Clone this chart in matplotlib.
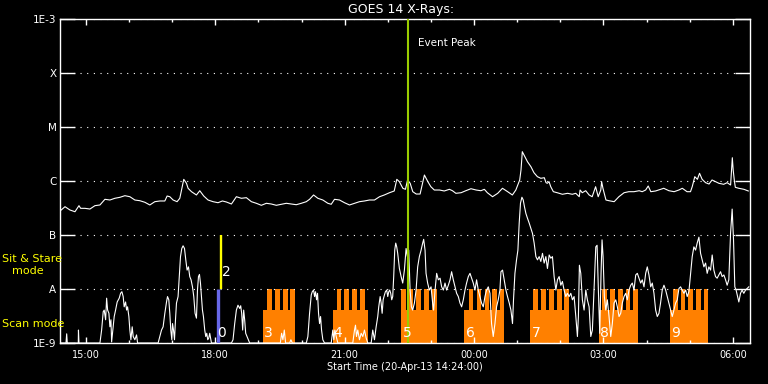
import numpy as np
import matplotlib
matplotlib.use("Agg")
import matplotlib.pyplot as plt
import matplotlib.transforms as mtransforms

# ---------------- data (time in hours after 20-Apr-13 14:24:00 UT, flux as log10 W/m^2) -------------
hrs_up = [
    0.000, 0.116, 0.231, 0.347, 0.440, 0.479, 0.579, 0.694, 0.810, 0.926,
    1.042, 1.157, 1.273, 1.389, 1.505, 1.620, 1.736, 1.852, 1.968, 2.083,
    2.199, 2.315, 2.431, 2.484, 2.546, 2.623, 2.715, 2.778, 2.817, 2.870,
    2.933, 2.970, 3.049, 3.164, 3.241, 3.333, 3.433, 3.549, 3.664, 3.766,
    3.859, 3.975, 4.090, 4.206, 4.322, 4.438, 4.553, 4.669, 4.785, 4.900,
    5.016, 5.132, 5.248, 5.363, 5.479, 5.595, 5.711, 5.787, 5.880, 5.979,
    6.095, 6.211, 6.289, 6.366, 6.481, 6.597, 6.713, 6.829, 6.944, 7.060,
    7.176, 7.292,
    7.41, 7.52, 7.64, 7.75, 7.81, 7.87, 7.95, 8.01, 8.06, 8.12,
    8.18, 8.26, 8.35, 8.45, 8.53, 8.60, 8.68, 8.80, 8.91, 9.03,
    9.10, 9.18, 9.30, 9.41, 9.53, 9.65, 9.76, 9.84, 9.91, 10.03,
    10.15, 10.26, 10.38, 10.49, 10.57, 10.63, 10.66, 10.69, 10.72, 10.78,
    10.84, 10.92, 10.99, 11.07, 11.15, 11.23, 11.27, 11.30, 11.34, 11.38,
    11.44, 11.53, 11.65, 11.77, 11.88, 11.96, 12.04, 12.06, 12.11, 12.19,
    12.27, 12.34, 12.42, 12.48, 12.54, 12.56, 12.59, 12.66, 12.73, 12.85,
    12.96, 13.08, 13.19, 13.31, 13.43, 13.50, 13.58, 13.64, 13.70, 13.81,
    13.93, 14.00, 14.12, 14.24, 14.35, 14.43, 14.54, 14.62, 14.66, 14.72,
    14.78, 14.83, 14.89, 14.97, 15.05, 15.12, 15.20, 15.28, 15.39, 15.47,
    15.55, 15.59, 15.61, 15.64, 15.66, 15.74, 15.86, 15.96,
]
log_up = [
    -6.556, -6.476, -6.537, -6.569, -6.457, -6.506, -6.506, -6.519, -6.457, -6.444,
    -6.339, -6.352, -6.320, -6.302, -6.272, -6.291, -6.352, -6.365, -6.394, -6.444,
    -6.383, -6.370, -6.370, -6.278, -6.291, -6.352, -6.383, -6.320, -6.167, -5.969,
    -6.043, -6.135, -6.198, -6.259, -6.180, -6.278, -6.352, -6.383, -6.402, -6.370,
    -6.389, -6.426, -6.291, -6.320, -6.309, -6.383, -6.413, -6.450, -6.413, -6.426,
    -6.450, -6.431, -6.413, -6.426, -6.439, -6.413, -6.383, -6.339, -6.259, -6.320,
    -6.352, -6.413, -6.431, -6.339, -6.352, -6.402, -6.444, -6.413, -6.383, -6.370,
    -6.352, -6.352,
    -6.291, -6.259, -6.217, -6.185, -5.969, -6.013, -6.135, -6.154, -5.981, -6.043,
    -6.198, -6.241, -6.241, -5.889, -6.013, -6.106, -6.167, -6.167, -6.185, -6.154,
    -6.180, -6.228, -6.217, -6.180, -6.143, -6.167, -6.180, -6.154, -6.217, -6.291,
    -6.228, -6.135, -6.198, -6.259, -6.167, -6.043, -5.981, -5.796, -5.457, -5.550,
    -5.643, -5.735, -5.846, -5.920, -5.950, -5.939, -6.031, -6.043, -6.013, -6.106,
    -6.198, -6.217, -6.246, -6.228, -6.246, -6.228, -6.291, -6.167, -6.217, -6.180,
    -6.259, -6.291, -6.106, -6.291, -6.167, -6.013, -6.135, -6.352, -6.365, -6.383,
    -6.291, -6.217, -6.198, -6.198, -6.180, -6.198, -6.167, -6.093, -6.198, -6.185,
    -6.154, -6.135, -6.180, -6.198, -6.167, -6.135, -6.198, -6.198, -6.106, -5.920,
    -5.969, -5.857, -5.969, -6.031, -6.056, -5.981, -6.013, -6.043, -6.061, -6.031,
    -6.074, -5.569, -5.796, -6.013, -6.117, -6.135, -6.154, -6.185,
]

hrs_lo = [
    0.000, 0.139, 0.155, 0.169, 0.424, 0.428, 0.440, 0.602, 0.609, 0.618,
    0.926, 0.965, 1.002, 1.025, 1.058, 1.081, 1.104, 1.134, 1.157, 1.181,
    1.197, 1.234, 1.257, 1.289, 1.326, 1.373, 1.405, 1.435, 1.465, 1.488,
    1.521, 1.544, 1.567, 1.597, 1.620, 1.644, 1.674, 1.697, 1.736, 1.775,
    1.799, 2.275, 2.315, 2.354, 2.391, 2.431, 2.470, 2.493, 2.523, 2.546,
    2.569, 2.593, 2.609, 2.632, 2.655, 2.678, 2.701, 2.738, 2.762, 2.794,
    2.824, 2.854, 2.887, 2.917, 2.947, 2.979, 3.009, 3.039, 3.072, 3.102,
    3.132, 3.164, 3.188, 3.211, 3.234, 3.257, 3.280, 3.303, 3.326, 3.356,
    3.380, 3.403, 3.426, 3.449, 3.472, 3.512, 3.975, 4.012, 4.051, 4.090,
    4.127, 4.167, 4.190, 4.213, 4.236, 4.259, 4.282, 4.306, 4.336, 4.368,
    4.398, 5.109, 5.139, 5.169, 5.201, 5.231, 5.324, 5.354, 5.387, 5.593,
    5.632, 5.671, 5.711, 5.748, 5.787, 5.826, 5.850, 5.880, 5.903, 5.926,
    5.949, 5.972, 5.995, 6.019, 6.042, 6.065, 6.095, 6.134, 6.289, 6.326,
    6.350, 6.373, 6.405, 6.442, 6.789, 6.829, 6.852, 6.875, 6.905, 6.944,
    6.984, 7.021, 7.060, 7.100, 7.137, 7.215, 7.252, 7.292, 7.331, 7.368,
    7.391, 7.424, 7.447, 7.470, 7.493, 7.523, 7.546, 7.576, 7.600, 7.623,
    7.646, 7.669, 7.692, 7.715, 7.738, 7.762, 7.785, 7.808, 7.831, 7.870,
    7.910, 7.947, 7.986, 8.025, 8.056, 8.086, 8.118, 8.148, 8.178, 8.218,
    8.257, 8.294, 8.333, 8.373, 8.410, 8.433, 8.465, 8.488, 8.525, 8.565,
    8.604, 8.641, 8.664, 8.697, 8.734, 8.773, 8.813, 8.850, 8.889, 8.928,
    8.965, 9.005, 9.044, 9.081, 9.120, 9.160, 9.197, 9.236, 9.275, 9.313,
    9.352, 9.391, 9.428, 9.468, 9.507, 9.544, 9.583, 9.623, 9.660, 9.699,
    9.738, 9.775, 9.815, 9.854, 9.891, 9.931, 9.970, 10.007, 10.046, 10.086,
    10.123, 10.162, 10.201, 10.225, 10.262, 10.301, 10.340, 10.377, 10.417, 10.456,
    10.493, 10.516, 10.549, 10.586, 10.618, 10.648, 10.678, 10.711, 10.741, 10.771,
    10.803, 10.840, 10.880, 10.919, 10.956, 10.995, 11.035, 11.072, 11.111, 11.150,
    11.188, 11.227, 11.266, 11.303, 11.343, 11.382, 11.419, 11.458, 11.498, 11.535,
    11.574, 11.613, 11.650, 11.689, 11.729, 11.766, 11.806, 11.845, 11.882, 11.921,
    11.961, 11.998, 12.021, 12.044, 12.076, 12.113, 12.153, 12.192, 12.229, 12.269,
    12.308, 12.345, 12.384, 12.424, 12.454, 12.484, 12.516, 12.546, 12.569, 12.593,
    12.623, 12.655, 12.692, 12.731, 12.771, 12.808, 12.847, 12.887, 12.924, 12.963,
    13.002, 13.039, 13.079, 13.118, 13.155, 13.194, 13.234, 13.271, 13.310, 13.350,
    13.387, 13.426, 13.465, 13.502, 13.542, 13.581, 13.618, 13.657, 13.697, 13.734,
    13.773, 13.812, 13.850, 13.889, 13.926, 13.965, 14.005, 14.044, 14.081, 14.120,
    14.160, 14.197, 14.236, 14.275, 14.313, 14.352, 14.391, 14.428, 14.468, 14.507,
    14.544, 14.583, 14.623, 14.660, 14.699, 14.738, 14.775, 14.815, 14.854, 14.891,
    14.931, 14.970, 15.007, 15.046, 15.086, 15.123, 15.162, 15.201, 15.238, 15.278,
    15.317, 15.354, 15.394, 15.433, 15.470, 15.509, 15.549, 15.586, 15.618, 15.648,
    15.678, 15.711, 15.741, 15.780, 15.817, 15.856, 15.896, 15.933, 15.972,
]
log_lo = [
    -9.00, -9.00, -8.83, -9.00, -9.00, -8.76, -9.00, -9.00, -9.00, -9.00,
    -9.00, -8.76, -8.42, -8.39, -8.57, -8.17, -8.39, -8.45, -8.70, -8.57,
    -8.98, -8.70, -8.51, -8.39, -8.24, -8.17, -8.08, -8.05, -8.14, -8.33,
    -8.24, -8.39, -8.33, -8.51, -8.76, -8.94, -8.70, -8.88, -8.94, -8.85,
    -9.00, -9.00, -8.88, -8.76, -8.70, -8.45, -8.24, -8.14, -8.20, -8.45,
    -8.76, -8.94, -8.64, -8.76, -8.94, -8.57, -8.26, -8.14, -7.83, -7.40,
    -7.25, -7.20, -7.25, -7.46, -7.65, -7.59, -7.77, -7.83, -7.96, -8.14,
    -8.45, -8.54, -8.02, -7.77, -7.73, -7.89, -8.14, -8.39, -8.51, -8.76,
    -8.88, -8.82, -8.94, -8.91, -8.82, -9.00, -9.00, -8.94, -8.64, -8.39,
    -8.30, -8.36, -8.31, -8.45, -8.76, -8.39, -8.57, -8.82, -8.88, -8.94,
    -9.00, -9.00, -8.82, -8.94, -8.76, -9.00, -9.00, -8.94, -9.00, -9.00,
    -9.00, -9.00, -9.00, -8.88, -8.45, -8.11, -8.05, -8.02, -8.14, -8.05,
    -8.20, -8.08, -8.45, -8.64, -8.51, -8.76, -8.94, -9.00, -9.00, -8.76,
    -8.94, -8.76, -8.88, -9.00, -9.00, -8.76, -8.67, -8.88, -8.76, -8.94,
    -8.82, -8.88, -8.76, -8.91, -9.00, -9.00, -8.76, -8.94, -8.70, -8.51,
    -8.33, -8.14, -8.26, -8.45, -8.20, -8.11, -8.05, -8.02, -8.14, -8.05,
    -8.02, -8.08, -8.20, -8.14, -7.77, -7.28, -7.15, -7.22, -7.34, -7.62,
    -7.77, -7.89, -7.65, -7.25, -7.40, -7.28, -8.02, -8.33, -8.39, -8.26,
    -8.02, -7.59, -7.40, -7.28, -7.15, -7.08, -7.28, -7.71, -7.89, -8.02,
    -7.96, -8.26, -8.39, -8.02, -7.71, -7.83, -7.80, -7.96, -8.02, -7.89,
    -8.02, -7.93, -7.83, -7.68, -7.83, -7.96, -8.08, -8.14, -8.26, -8.33,
    -8.20, -8.02, -7.89, -7.77, -7.71, -7.80, -7.89, -8.02, -7.83, -8.02,
    -8.14, -8.26, -8.33, -8.14, -8.02, -7.96, -8.08, -8.64, -8.88, -8.64,
    -8.33, -8.20, -8.02, -7.68, -7.65, -7.83, -8.02, -8.14, -8.26, -8.39,
    -8.64, -8.20, -7.71, -7.46, -7.28, -6.78, -6.41, -6.30, -6.35, -6.48,
    -6.60, -6.69, -6.78, -6.88, -6.97, -7.15, -7.40, -7.46, -7.40, -7.49,
    -7.34, -7.52, -7.40, -7.62, -7.37, -7.43, -7.40, -7.77, -8.02, -7.83,
    -7.77, -7.93, -7.86, -8.02, -8.14, -8.08, -8.14, -8.08, -8.20, -8.14,
    -8.51, -8.88, -8.51, -7.56, -7.71, -8.20, -8.39, -8.02, -8.20, -8.33,
    -8.88, -8.76, -8.02, -7.22, -7.19, -8.02, -8.82, -7.71, -7.09, -7.40,
    -8.14, -8.39, -8.20, -8.51, -8.88, -8.64, -8.26, -8.20, -8.33, -8.51,
    -8.45, -8.26, -8.14, -8.08, -8.20, -8.02, -7.93, -7.89, -8.02, -7.74,
    -7.71, -7.80, -7.89, -7.83, -7.96, -7.71, -7.59, -7.74, -7.96, -7.89,
    -8.08, -8.39, -8.51, -8.45, -8.26, -8.02, -7.93, -8.02, -8.14, -8.26,
    -8.39, -8.51, -8.39, -8.26, -8.20, -7.99, -7.96, -8.02, -8.08, -8.02,
    -8.14, -8.05, -7.71, -7.40, -7.22, -7.28, -7.15, -7.04, -7.34, -7.46,
    -7.59, -7.52, -7.71, -7.59, -7.65, -7.37, -7.65, -7.77, -7.80, -7.74,
    -7.68, -7.77, -7.74, -7.83, -7.93, -7.83, -6.97, -6.52, -7.09, -7.96,
    -8.02, -8.14, -8.24, -8.08, -8.02, -8.08, -8.02, -7.99, -7.96,
]

# scan-mode blocks: id, start, end (hours after start), and start of each raster scan
block_ids = ["3", "4", "5", "6", "7", "8", "9"]
block_start = [4.699, 6.319, 7.917, 9.375, 10.903, 12.500, 14.137]
block_end = [5.440, 7.146, 8.750, 10.301, 11.806, 13.403, 15.030]
block_scans = [
    [4.799, 4.984, 5.169, 5.331],
    [6.412, 6.597, 6.782, 6.968],
    [7.917, 8.079, 8.264, 8.449, 8.634],
    [9.475, 9.660, 9.845, 10.016, 10.192],
    [10.972, 11.157, 11.343, 11.528, 11.697],
    [12.576, 12.755, 12.940, 13.118, 13.294],
    [14.213, 14.391, 14.567, 14.752, 14.931],
]
scan_len = 0.108

obs0_time = 3.665   # scan-mode observation "0"
obs2_time = 3.727   # sit & stare observation "2"
event_peak = 8.079

ytick_vals = [1e-9, 1e-8, 1e-7, 1e-6, 1e-5, 1e-4, 1e-3]
ytick_labels = ["1E-9", "A", "B", "C", "M", "X", "1E-3"]
xtick_major = [0.6, 3.6, 6.6, 9.6, 12.6, 15.6]
xtick_labels = ["15:00", "18:00", "21:00", "00:00", "03:00", "06:00"]
xtick_minor = [0.6, 1.6, 2.6, 3.6, 4.6, 5.6, 6.6, 7.6, 8.6, 9.6, 10.6, 11.6, 12.6, 13.6, 14.6, 15.6]

# ---------------- figure ----------------
W, H = 768, 384
fig = plt.figure(figsize=(W / 100, H / 100), dpi=100, facecolor="black")
ax = fig.add_axes([60 / W, 1 - 343 / H, 690 / W, 324 / H], facecolor="black")
ax.set_yscale("log")
ax.set_xlim(0, 16)
ax.set_ylim(1e-9, 1e-3)

ORANGE = "#ff8000"
low_top = 4.1e-9
# orange scan blocks
for s, e in zip(block_start, block_end):
    ax.bar(s, low_top - 1e-9, width=e - s, bottom=1e-9, align="edge",
           color=ORANGE, edgecolor="none", linewidth=0, zorder=1)
for scans, e in zip(block_scans, block_end):
    for s in scans:
        w = min(scan_len, e - s)
        ax.bar(s, 1e-8 - low_top, width=w, bottom=low_top, align="edge",
               color=ORANGE, edgecolor="none", linewidth=0, zorder=1)

# GOES curves
ax.plot(hrs_up, np.power(10.0, log_up), color="white", lw=0.8, zorder=3)
ax.plot(hrs_lo, np.power(10.0, log_lo), color="white", lw=0.8, zorder=3)

# observation markers
ax.vlines(obs0_time, 1e-9, 1e-8, color="#6868e8", lw=2.4, zorder=4)
ax.vlines(obs2_time, 1e-8, 1e-7, color="#ffff00", lw=1.7, zorder=4)
ax.axvline(event_peak, color="#9acd00", lw=1.5, zorder=5)

# labels inside plot
tr = mtransforms.blended_transform_factory(ax.transData, ax.transAxes)
for bid, s in zip(block_ids, block_start):
    ax.text(s + 0.03, 0.031, bid, transform=tr, color="white", fontsize=10,
            ha="left", va="center", zorder=6)
ax.text(obs0_time - 0.01, 0.031, "0", transform=tr, color="white", fontsize=10,
        ha="left", va="center", zorder=6)
ax.text(obs2_time + 0.03, 0.219, "2", transform=tr, color="white", fontsize=10,
        ha="left", va="center", zorder=6)
ax.text(event_peak + 0.22, 1 - 24 / 324, "Event Peak", transform=tr, color="white",
        fontsize=7.5, ha="left", va="center", zorder=6)

# axes styling
for sp in ax.spines.values():
    sp.set_color("white")
    sp.set_linewidth(1.0)
ax.set_yticks(ytick_vals)
ax.set_yticklabels(ytick_labels)
ax.yaxis.set_minor_locator(matplotlib.ticker.NullLocator())
ax.tick_params(axis="y", which="major", direction="in", length=10.8, width=1.0,
               left=True, right=True, colors="white", labelsize=7.5, pad=2.5)
ax.set_xticks(xtick_major)
ax.set_xticklabels(xtick_labels)
ax.set_xticks(xtick_minor, minor=True)
ax.tick_params(axis="x", which="major", direction="in", length=4.3, width=1.0,
               top=True, bottom=True, colors="white", labelsize=7, pad=5)
ax.tick_params(axis="x", which="minor", direction="in", length=2.2, width=1.0,
               top=True, bottom=True, colors="white")
ax.yaxis.grid(True, which="major", color="white", linestyle=(0, (1, 5)), linewidth=0.8)
ax.set_axisbelow(False)

# figure texts
fig.text(401 / W, 1 - 10 / H, "GOES 14 X-Rays:", color="white", fontsize=9,
         ha="center", va="center")
fig.text(405 / W, 1 - 367.5 / H, "Start Time (20-Apr-13 14:24:00)", color="white",
         fontsize=7, ha="center", va="center")
fig.text(2 / W, 1 - 259 / H, "Sit & Stare", color="#ffff00", fontsize=8,
         ha="left", va="center")
fig.text(12 / W, 1 - 271 / H, "mode", color="#ffff00", fontsize=8,
         ha="left", va="center")
fig.text(2 / W, 1 - 324 / H, "Scan mode", color="#ffff00", fontsize=8,
         ha="left", va="center")

fig.savefig("out.png", dpi=100, facecolor="black")
